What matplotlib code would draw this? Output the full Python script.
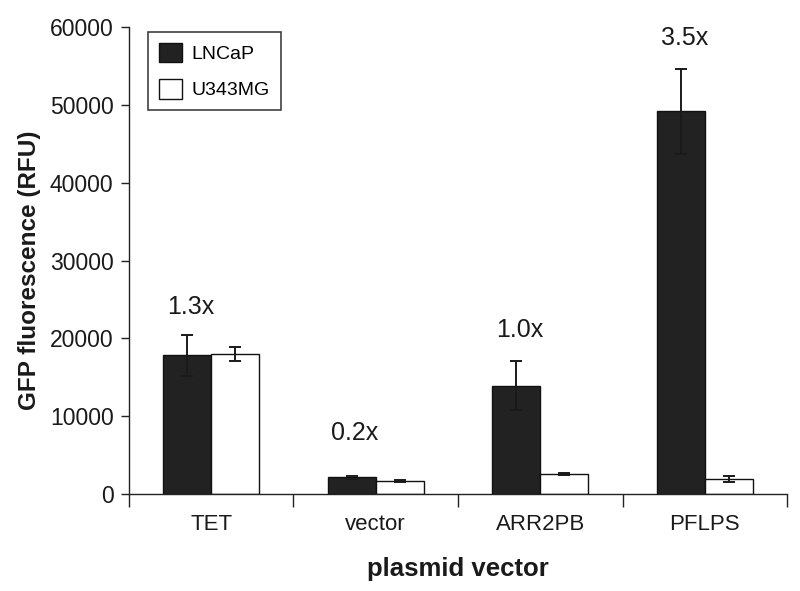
import matplotlib
matplotlib.use("Agg")
import matplotlib.pyplot as plt
import numpy as np

plt.rcParams['font.family'] = ['Liberation Sans', 'DejaVu Sans']

categories = ["TET", "vector", "ARR2PB", "PFLPS"]
lncap = [17860, 2140, 13900, 49200]
lncap_err = [2630, 200, 3150, 5470]
u343 = [17990, 1710, 2570, 1930]
u343_err = [850, 150, 150, 380]
fold_labels = ["1.3x", "0.2x", "1.0x", "3.5x"]
fold_y = [24000, 7800, 21100, 58600]

fig = plt.figure(figsize=(8, 5.91), dpi=100)
ax = fig.add_axes([0.161, 0.164, 0.823, 0.790])

x = np.arange(len(categories))
w = 0.292
ekw = dict(ecolor='#1a1a1a', elinewidth=1.4, capsize=4.5, capthick=1.4)
ax.bar(x - w / 2, lncap, w, yerr=lncap_err, color='#222222', edgecolor='#111111',
       linewidth=1.0, label='LNCaP', error_kw=ekw, zorder=2)
ax.bar(x + w / 2, u343, w, yerr=u343_err, color='white', edgecolor='#111111',
       linewidth=1.0, label='U343MG', error_kw=ekw, zorder=2)

for xi, lab, yy in zip(x, fold_labels, fold_y):
    ax.text(xi - w / 2 + 0.02, yy, lab, ha='center', va='center', fontsize=18, color='#1a1a1a')

ax.set_xlim(-0.5, 3.5)
ax.set_ylim(0, 60000)
ax.set_yticks(np.arange(0, 60001, 10000))
ax.set_yticklabels([str(v) for v in range(0, 60001, 10000)], fontsize=16.5)
ax.tick_params(axis='y', direction='out', length=6, width=1.0, colors='#222222', labelcolor='#1a1a1a', pad=5)

ax.set_xticks(np.arange(-0.5, 3.6, 1.0))
ax.set_xticklabels([])
ax.tick_params(axis='x', which='major', direction='out', length=9, width=1.0, colors='#222222')
ax.set_xticks(x, minor=True)
ax.set_xticklabels(categories, minor=True, fontsize=16, color='#1a1a1a')
ax.tick_params(axis='x', which='minor', length=0, pad=14)

for s in ['top', 'right']:
    ax.spines[s].set_visible(False)
for s in ['left', 'bottom']:
    ax.spines[s].set_linewidth(1.0)
    ax.spines[s].set_color('#222222')

ax.set_ylabel('GFP fluorescence (RFU)', fontsize=17.5, fontweight='bold', color='#1a1a1a')
ax.yaxis.set_label_coords(-0.133, 0.48)
ax.set_xlabel('plasmid vector', fontsize=18.5, fontweight='bold', labelpad=16, color='#1a1a1a')

leg = ax.legend(loc='upper left', bbox_to_anchor=(0.029, 0.99), fontsize=14,
                frameon=True, fancybox=False, edgecolor='#111111', handlelength=1.2,
                handleheight=1.2, borderpad=0.55, labelspacing=0.8, handletextpad=0.5,
                borderaxespad=0)
leg.get_frame().set_linewidth(1.2)

fig.savefig('out.png', dpi=100)
